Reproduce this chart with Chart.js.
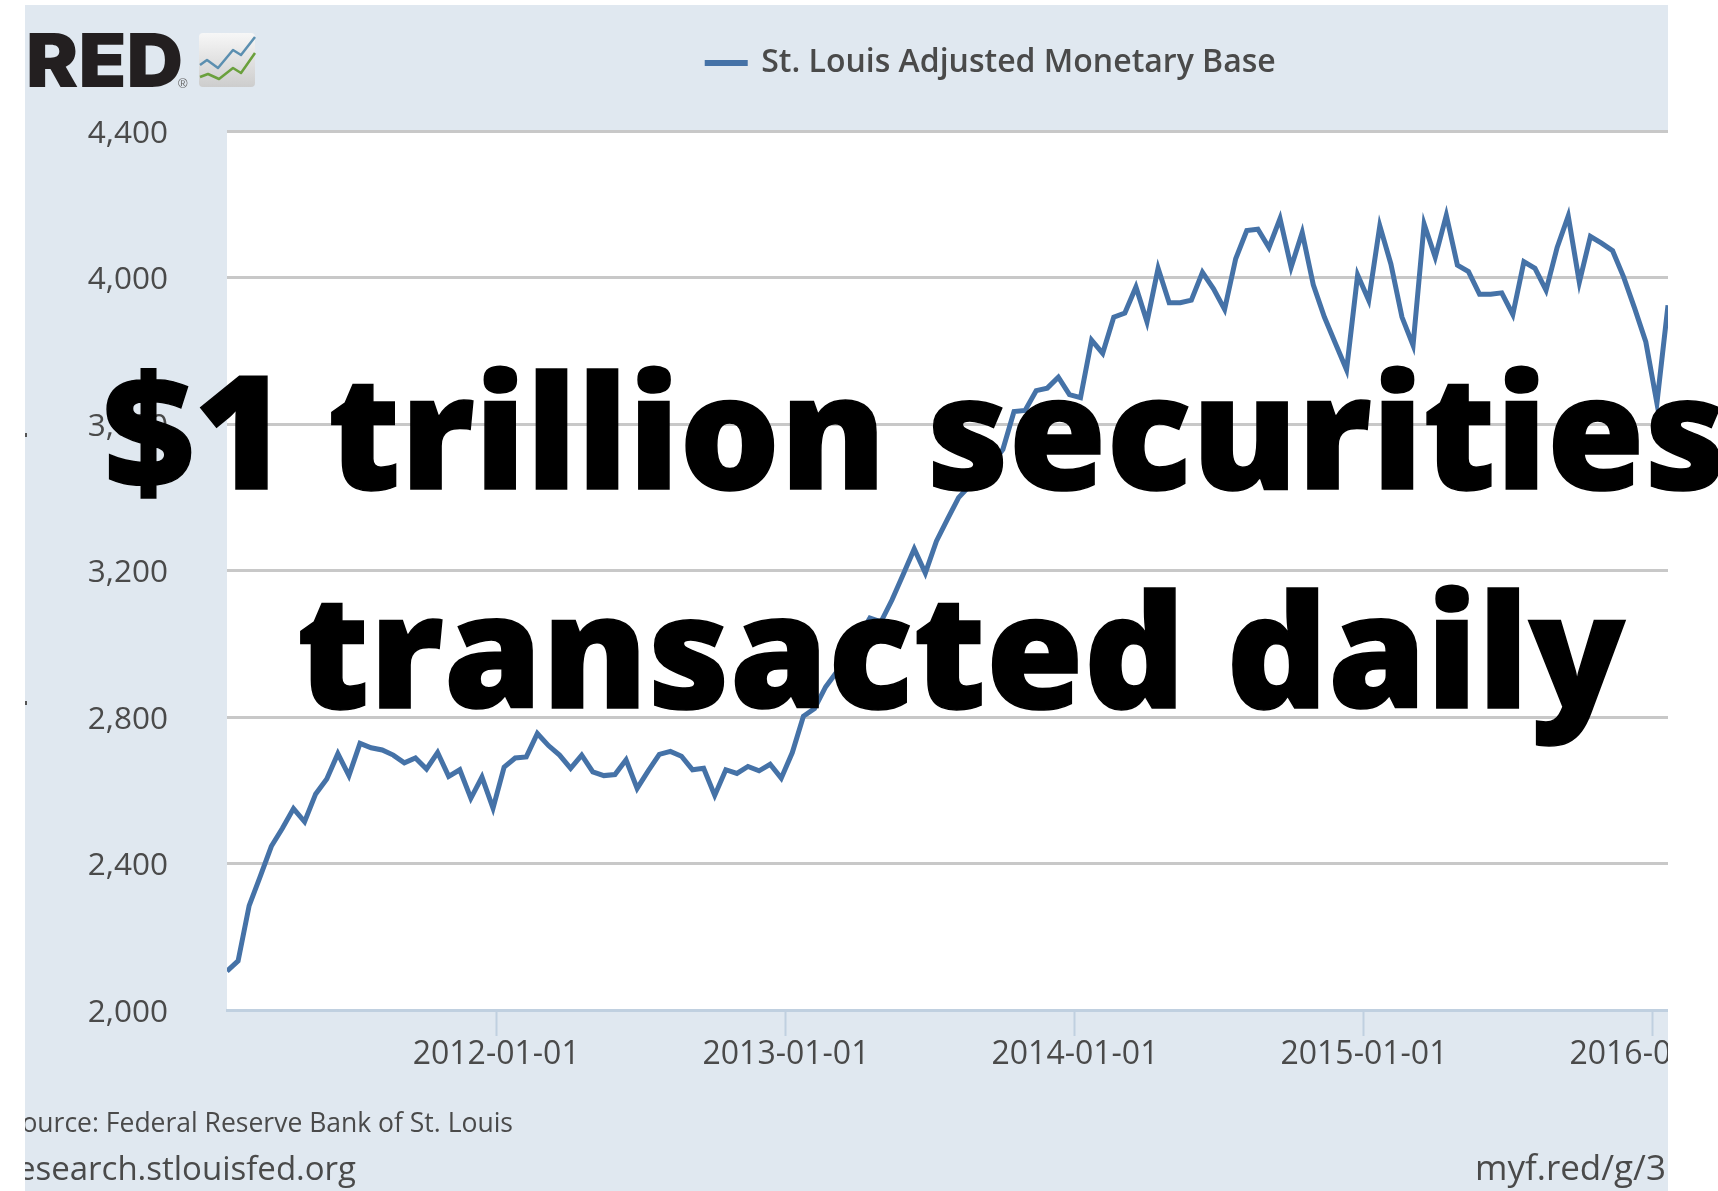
<!DOCTYPE html>
<html>
<head>
<meta charset="utf-8">
<title>St. Louis Adjusted Monetary Base</title>
<script src="https://cdn.jsdelivr.net/npm/chart.js@4/dist/chart.umd.min.js"></script>
<style>
html,body{margin:0;padding:0;background:#fff}
canvas{display:block}
</style>
</head>
<body>
<canvas id="baseChart" width="1718" height="1191"></canvas>
<script>
var seriesName = 'St. Louis Adjusted Monetary Base';
var tickDates = ['2012-01-01','2013-01-01','2014-01-01','2015-01-01','2016-01-01'];
var yTicks = [2000,2400,2800,3200,3600,4000,4400];
var headline = ['$1 trillion securities','transacted daily'];
var dates = [
 '2011-01-26','2011-02-09','2011-02-23','2011-03-09','2011-03-23','2011-04-06','2011-04-20','2011-05-04','2011-05-18','2011-06-01',
 '2011-06-15','2011-06-29','2011-07-13','2011-07-27','2011-08-10','2011-08-24','2011-09-07','2011-09-21','2011-10-05','2011-10-19',
 '2011-11-02','2011-11-16','2011-11-30','2011-12-14','2011-12-28','2012-01-11','2012-01-25','2012-02-08','2012-02-22','2012-03-07',
 '2012-03-21','2012-04-04','2012-04-18','2012-05-02','2012-05-16','2012-05-30','2012-06-13','2012-06-27','2012-07-11','2012-07-25',
 '2012-08-08','2012-08-22','2012-09-05','2012-09-19','2012-10-03','2012-10-17','2012-10-31','2012-11-14','2012-11-28','2012-12-12',
 '2012-12-26','2013-01-09','2013-01-23','2013-02-06','2013-02-20','2013-03-06','2013-03-20','2013-04-03','2013-04-17','2013-05-01',
 '2013-05-15','2013-05-29','2013-06-12','2013-06-26','2013-07-10','2013-07-24','2013-08-07','2013-08-21','2013-09-04','2013-09-18',
 '2013-10-02','2013-10-16','2013-10-30','2013-11-13','2013-11-27','2013-12-11','2013-12-25','2014-01-08','2014-01-22','2014-02-05',
 '2014-02-19','2014-03-05','2014-03-19','2014-04-02','2014-04-16','2014-04-30','2014-05-14','2014-05-28','2014-06-11','2014-06-25',
 '2014-07-09','2014-07-23','2014-08-06','2014-08-20','2014-09-03','2014-09-17','2014-10-01','2014-10-15','2014-10-29','2014-11-12',
 '2014-11-26','2014-12-10','2014-12-24','2015-01-07','2015-01-21','2015-02-04','2015-02-18','2015-03-04','2015-03-18','2015-04-01',
 '2015-04-15','2015-04-29','2015-05-13','2015-05-27','2015-06-10','2015-06-24','2015-07-08','2015-07-22','2015-08-05','2015-08-19',
 '2015-09-02','2015-09-16','2015-09-30','2015-10-14','2015-10-28','2015-11-11','2015-11-25','2015-12-09','2015-12-23','2016-01-06',
 '2016-01-20'
];
var baseValues = [
 2106,2134,2285,2365,2447,2496,2550,2514,2590,2631,
 2700,2640,2728,2716,2710,2696,2675,2688,2658,2703,
 2638,2656,2578,2636,2551,2663,2688,2691,2755,2722,
 2696,2660,2696,2650,2640,2643,2683,2605,2653,2698,
 2706,2693,2656,2660,2586,2656,2646,2665,2653,2671,
 2633,2703,2802,2823,2882,2923,2965,3019,3070,3060,
 3120,3189,3259,3193,3280,3340,3399,3431,3454,3490,
 3531,3634,3637,3691,3698,3728,3680,3672,3829,3793,
 3892,3903,3974,3879,4025,3931,3931,3938,4014,3969,
 3913,4051,4128,4132,4082,4161,4028,4123,3980,3892,
 3820,3748,4007,3938,4141,4037,3892,3815,4146,4055,
 4170,4034,4016,3954,3954,3958,3899,4043,4025,3965,
 4082,4168,3987,4112,4094,4073,4001,3915,3824,3657,
 3924
];

var panelColor = '#e0e8f0';
var textColor = '#4a4a4a';
var panelLeft = 25, panelRight = 1668, panelTop = 5;

// white page, blue panel, white plot area
var backdrop = {
    id: 'backdrop',
    beforeDraw: function(chart){
        var c = chart.ctx, a = chart.chartArea;
        c.save();
        c.fillStyle = '#fff';
        c.fillRect(0,0,chart.width,chart.height);
        c.fillStyle = panelColor;
        c.fillRect(panelLeft,panelTop,panelRight-panelLeft,chart.height-panelTop);
        c.fillStyle = '#fff';
        c.fillRect(a.left,a.top,a.right-a.left,a.bottom-a.top);
        c.restore();
    }
};

// legend sits right of the panel centre in the original, and high above the plot
var legendShift = {
    id: 'legendShift',
    afterLayout: function(chart){
        chart.legend.left += 145;
        chart.legend.right += 145;
        chart.legend.top -= 42;
        chart.legend.bottom -= 42;
    }
};

function drawLogo(c){
    c.save();
    c.fillStyle = '#231f20';
    c.textBaseline = 'alphabetic';
    c.save();
    c.translate(26,87);
    c.scale(1.06,1);
    c.font = '900 74px Inter';
    c.fillText('RED',0,0);
    c.restore();
    c.fillStyle = '#666';
    c.font = '13px "Liberation Sans"';
    c.fillText('®',178,88);
    // little icon next to the word
    var g = c.createLinearGradient(0,33,0,87);
    g.addColorStop(0,'#f7f7f7');
    g.addColorStop(1,'#cdcdcd');
    c.fillStyle = g;
    c.beginPath();
    c.roundRect(199,33,56,54,4);
    c.fill();
    c.lineWidth = 2.5;
    c.lineJoin = 'round';
    c.strokeStyle = '#5b8fb0';
    c.beginPath();
    [[200,65],[207,60],[218,68],[233,50],[241,55],[255,37]].forEach(function(p,i){ i ? c.lineTo(p[0],p[1]) : c.moveTo(p[0],p[1]); });
    c.stroke();
    c.strokeStyle = '#6aa03c';
    c.beginPath();
    [[200,77],[208,74],[219,79],[233,68],[241,73],[255,53]].forEach(function(p,i){ i ? c.lineTo(p[0],p[1]) : c.moveTo(p[0],p[1]); });
    c.stroke();
    c.restore();
}

var overlay = {
    id: 'overlay',
    afterDraw: function(chart){
        var c = chart.ctx;
        c.save();
        // the screenshot is cropped, labels stop at the panel edge
        c.fillStyle = '#fff';
        c.fillRect(panelRight,0,chart.width-panelRight,chart.height);
        c.fillRect(0,0,panelLeft,chart.height);

        drawLogo(c);

        // two specks left over from the cropped axis title
        c.fillStyle = '#555';
        c.fillRect(25,433,2,4);
        c.fillRect(25,701,2,4);

        c.save();
        c.beginPath();
        c.rect(panelLeft,panelTop,panelRight-panelLeft,chart.height-panelTop);
        c.clip();
        c.fillStyle = textColor;
        c.textBaseline = 'alphabetic';
        c.textAlign = 'right';
        c.font = '26.5px "Open Sans"';
        c.fillText('Source: Federal Reserve Bank of St. Louis',513,1132);
        c.font = '33px "Open Sans"';
        c.fillText('research.stlouisfed.org',356,1180);
        c.textAlign = 'left';
        c.font = '35px "Open Sans"';
        c.fillText('myf.red/g/3',1475,1180);
        c.restore();

        c.fillStyle = '#000';
        c.strokeStyle = '#000';
        c.lineWidth = 1.5;
        c.textBaseline = 'alphabetic';
        c.font = '800 158px "Open Sans"';
        c.textAlign = 'left';
        c.fillText(headline[0],103,489);
        c.strokeText(headline[0],103,489);
        c.textAlign = 'center';
        c.fillText(headline[1],961,708);
        c.strokeText(headline[1],961,708);
        c.restore();
    }
};

var ctx = document.getElementById('baseChart').getContext('2d');
var baseChart = new Chart(ctx, {
    type: 'line',
    data: {
        datasets: [{
            label: seriesName,
            data: dates.map(function(d,i){ return {x: Date.parse(d), y: baseValues[i]}; }),
            borderColor: '#4572a7',
            backgroundColor: '#4572a7',
            borderWidth: 5,
            pointRadius: 0,
            tension: 0
        }]
    },
    plugins: [backdrop, legendShift, overlay],
    options: {
        responsive: false,
        animation: false,
        layout: { padding: { left: 25, right: 50, top: 77, bottom: 0 } },
        plugins: {
            tooltip: { enabled: false },
            legend: {
                position: 'top',
                labels: {
                    boxWidth: 38,
                    boxHeight: 1,
                    padding: 12,
                    color: '#4a4a4a',
                    font: { family: '"Open Sans"', size: 32, weight: '600' }
                }
            }
        },
        scales: {
            x: {
                type: 'linear',
                min: Date.parse(dates[0]),
                max: Date.parse(dates[dates.length-1]),
                afterBuildTicks: function(s){
                    s.ticks = tickDates.map(function(d){ return {value: Date.parse(d)}; });
                },
                afterFit: function(s){
                    s.height = 181;
                    s.paddingLeft = 0;
                    s.paddingRight = 0;
                },
                border: { color: '#c0d0e0', width: 3 },
                grid: { drawOnChartArea: false, tickLength: 26, tickColor: '#c0d0e0', tickWidth: 2 },
                ticks: {
                    autoSkip: false,
                    maxRotation: 0,
                    padding: 0,
                    color: textColor,
                    font: { family: '"Open Sans"', size: 32 },
                    callback: function(v){ return new Date(v).toISOString().slice(0,10); }
                }
            },
            y: {
                min: yTicks[0],
                max: yTicks[yTicks.length-1],
                afterBuildTicks: function(s){
                    s.ticks = yTicks.map(function(v){ return {value: v}; });
                },
                afterFit: function(s){
                    s.width = 202;
                    s.paddingTop = 0;
                    s.paddingBottom = 0;
                },
                border: { display: false },
                grid: {
                    drawTicks: false,
                    lineWidth: 3,
                    color: function(t){ return t.tick.value === yTicks[0] ? '#c0d0e0' : '#c8c8c8'; }
                },
                ticks: {
                    padding: 59,
                    labelOffset: 3,
                    color: textColor,
                    font: { family: '"Open Sans"', size: 31.5 },
                    callback: function(v){ return v.toLocaleString('en-US'); }
                }
            }
        }
    }
});
</script>
</body>
</html>
